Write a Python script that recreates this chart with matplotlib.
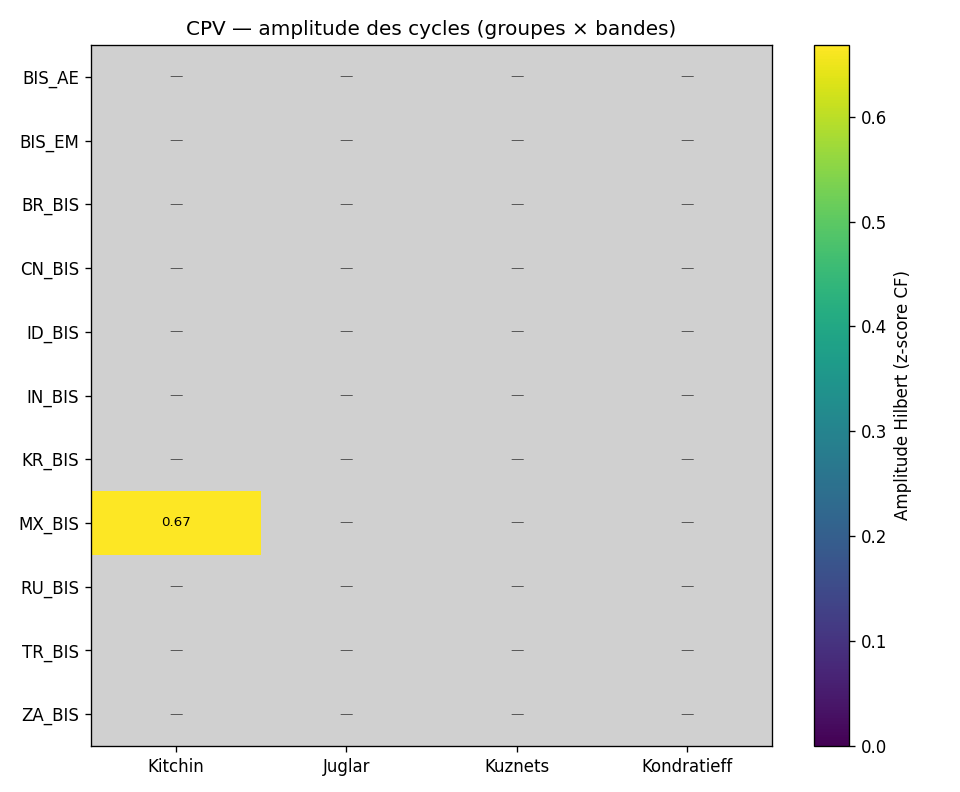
import numpy as np
import matplotlib
matplotlib.use("Agg")
import matplotlib.pyplot as plt

groups = ["BIS_AE", "BIS_EM", "BR_BIS", "CN_BIS", "ID_BIS", "IN_BIS",
          "KR_BIS", "MX_BIS", "RU_BIS", "TR_BIS", "ZA_BIS"]
bands = ["Kitchin", "Juglar", "Kuznets", "Kondratieff"]
# amplitude values (NaN = no data)
mx_kitchin = 0.668

vals = np.full((len(groups), len(bands)), np.nan)
vals[groups.index("MX_BIS"), bands.index("Kitchin")] = mx_kitchin
masked = np.ma.masked_invalid(vals)

fig, ax = plt.subplots(figsize=(8, 6.6), dpi=120)
ax.set_facecolor("#d0d0d0")
im = ax.imshow(masked, aspect="auto", cmap="viridis", vmin=0, vmax=np.nanmax(vals))
ax.set_xticks(range(len(bands)))
ax.set_xticklabels(bands)
ax.set_yticks(range(len(groups)))
ax.set_yticklabels(groups)
for i in range(len(groups)):
    for j in range(len(bands)):
        v = vals[i, j]
        if np.isnan(v):
            ax.text(j, i, "—", ha="center", va="center", fontsize=8, color="#555555")
        else:
            ax.text(j, i, f"{v:.2f}", ha="center", va="center", fontsize=8, color="black")
ax.set_title("CPV — amplitude des cycles (groupes × bandes)", fontsize=12)
cb = fig.colorbar(im, ax=ax)
cb.set_label("Amplitude Hilbert (z-score CF)")
ax.set_position([91/960, 46/792, 681/960, 701/792])
cb.ax.set_position([814/960, 46/792, 35/960, 701/792])
fig.savefig("out.png", dpi=120)
